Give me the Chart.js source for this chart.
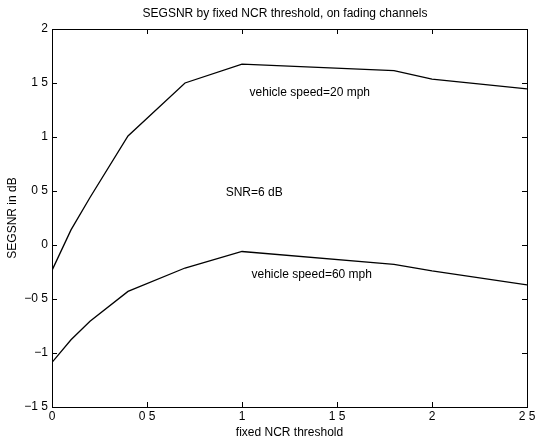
<!DOCTYPE html>
<html>
<head>
<meta charset="utf-8">
<script src="https://cdn.jsdelivr.net/npm/chart.js@4"></script>
<style>
  html, body { margin: 0; padding: 0; background: #fff; }
  #wrap { width: 536px; height: 443px; }
</style>
</head>
<body>
<div id="wrap"><canvas id="grafico" width="536" height="443"></canvas></div>
<script>
// Dados
const limiares = [0, 0.1, 0.2, 0.4, 0.7, 1.0, 1.8, 2.0, 2.5];
const snr20mph = [-0.235, 0.14, 0.44, 1.01, 1.5, 1.675, 1.615, 1.535, 1.445];
const snr60mph = [-1.087, -0.877, -0.707, -0.43, -0.213, -0.06, -0.18, -0.24, -0.37];
const xTicks = ["0", "0 5", "1", "1 5", "2", "2 5"];
const yTicks = ["\u22121 5", "\u22121", "\u22120 5", "0", "0 5", "1", "1 5", "2"];

const fonte = "'Liberation Sans', Arial, sans-serif";
const titulo = "SEGSNR by fixed NCR threshold, on fading channels";

function pontos(ys) {
    return limiares.map((x, i) => ({ x: x, y: ys[i] }));
}

// Caixa, marcas de escala para dentro (estilo matlab) e textos
const caixaPlugin = {
    id: "caixa",
    afterDraw(chart) {
        const { ctx, chartArea: a, scales } = chart;
        ctx.save();
        ctx.strokeStyle = "#000";
        ctx.lineWidth = 1;
        ctx.strokeRect(Math.round(a.left) + 0.5, Math.round(a.top) + 0.5,
            Math.round(a.right - a.left), Math.round(a.bottom - a.top));
        const len = 5;
        ctx.beginPath();
        scales.x.ticks.forEach(t => {
            const px = Math.round(scales.x.getPixelForValue(t.value)) + 0.5;
            ctx.moveTo(px, a.bottom); ctx.lineTo(px, a.bottom - len);
            ctx.moveTo(px, a.top); ctx.lineTo(px, a.top + len);
        });
        scales.y.ticks.forEach(t => {
            const py = Math.round(scales.y.getPixelForValue(t.value)) + 0.5;
            ctx.moveTo(a.left, py); ctx.lineTo(a.left + len, py);
            ctx.moveTo(a.right, py); ctx.lineTo(a.right - len, py);
        });
        ctx.stroke();

        ctx.fillStyle = "#000";
        ctx.textBaseline = "middle";

        // título centrado sobre os eixos
        ctx.font = "12px " + fonte;
        ctx.textAlign = "center";
        ctx.fillText(titulo, (a.left + a.right) / 2 - 4.5, 14);

        // textos dentro do gráfico
        ctx.textAlign = "left";
        chart.options.plugins.caixa.textos.forEach(t => {
            ctx.fillText(t.txt, scales.x.getPixelForValue(t.x), scales.y.getPixelForValue(t.y));
        });
        ctx.restore();
    }
};

new Chart(document.getElementById("grafico").getContext("2d"), {
    type: "line",
    data: {
        datasets: [
            { label: "20 mph", data: pontos(snr20mph) },
            { label: "60 mph", data: pontos(snr60mph) }
        ]
    },
    options: {
        responsive: false,
        animation: false,
        elements: {
            line: { borderColor: "#000", borderWidth: 1.3, tension: 0, fill: false },
            point: { radius: 0 }
        },
        layout: { padding: { left: 0, right: 9, top: 29, bottom: 0 } },
        plugins: {
            legend: { display: false },
            tooltip: { enabled: false },
            title: { display: false },
            caixa: {
                textos: [
                    { txt: "vehicle speed=20 mph", x: 1.04, y: 1.41 },
                    { txt: "SNR=6 dB", x: 0.914, y: 0.487 },
                    { txt: "vehicle speed=60 mph", x: 1.05, y: -0.275 }
                ]
            }
        },
        scales: {
            x: {
                type: "linear",
                min: 0, max: 2.5,
                afterFit(s) { s.height = 36; s.paddingRight = 0; s.paddingLeft = 0; },
                ticks: {
                    stepSize: 0.5, color: "#000", padding: 2, maxRotation: 0,
                    font: { family: fonte, size: 12 },
                    callback: (v, i) => xTicks[i]
                },
                grid: { drawOnChartArea: false, drawTicks: false },
                border: { display: false },
                title: {
                    display: true, text: "fixed NCR threshold", color: "#000",
                    font: { family: fonte, size: 12 }, padding: { top: 0, bottom: 3 }
                }
            },
            y: {
                type: "linear",
                min: -1.5, max: 2,
                afterFit(s) { s.width = 52; },
                ticks: {
                    stepSize: 0.5, color: "#000", padding: 4,
                    font: { family: fonte, size: 12 },
                    callback: (v, i) => yTicks[i]
                },
                grid: { drawOnChartArea: false, drawTicks: false },
                border: { display: false },
                title: {
                    display: true, text: "SEGSNR in dB", color: "#000",
                    font: { family: fonte, size: 12 }, padding: { top: 5, bottom: 0 }
                }
            }
        }
    },
    plugins: [caixaPlugin]
});
</script>
</body>
</html>
